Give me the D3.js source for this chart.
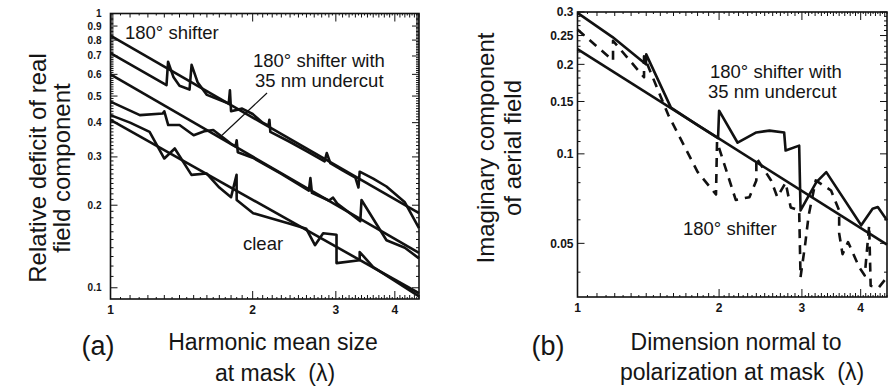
<!DOCTYPE html>
<html>
<head>
<meta charset="utf-8">
<script src="https://cdn.jsdelivr.net/npm/d3@7/dist/d3.min.js"></script>
<style>
  body { margin: 0; background: #fff; }
  text { font-family: "Liberation Sans", Arial, Helvetica, sans-serif; fill: #151515; white-space: pre; }
  .tick-label { font-weight: bold; }
</style>
</head>
<body>
<svg id="chart" width="895" height="390"></svg>
<script>
// ---- data ----
const xTickValues = [1, 2, 3, 4];
const yTicksA = [0.1, 0.2, 0.3, 0.4, 0.5, 0.6, 0.7, 0.8, 0.9, 1];
const yTickLabelsA = ['0.1', '0.2', '0.3', '0.4', '0.5', '0.6', '0.7', '0.8', '0.9', '1'];
const yTicksB = [0.05, 0.1, 0.15, 0.2, 0.25, 0.3];
const yTickLabelsB = ['0.05', '0.1', '0.15', '0.2', '0.25', '0.3'];

// panel (a): relative deficit of real field component
const shifterFitA = [[1, 0.83], [4.5, 0.187]];
const shifterExactA = [
  [1, 0.717], [1.314, 0.548], [1.324, 0.667], [1.36, 0.585], [1.40, 0.545], [1.47, 0.528],
  [1.485, 0.65], [1.53, 0.56], [1.6, 0.505], [1.70, 0.485], [1.78, 0.47], [1.79, 0.525],
  [1.80, 0.44], [1.90, 0.45], [2.0, 0.43], [2.10, 0.40], [2.16, 0.39], [2.17, 0.41],
  [2.18, 0.37], [2.40, 0.34], [2.60, 0.315], [2.84, 0.289], [2.87, 0.31], [2.92, 0.285],
  [3.10, 0.268], [3.30, 0.252], [3.35, 0.232], [3.37, 0.265], [3.60, 0.25], [3.84, 0.234],
  [4.20, 0.205], [4.5, 0.165]
];
const undercutFitA = [[1, 0.60], [4.5, 0.134]];
const undercutExactA = [
  [1, 0.477], [1.154, 0.426], [1.29, 0.432], [1.30, 0.44], [1.325, 0.392], [1.40, 0.392],
  [1.50, 0.36], [1.58, 0.372], [1.65, 0.376], [1.72, 0.356], [1.80, 0.335], [1.84, 0.328],
  [1.85, 0.345], [1.86, 0.312], [2.0, 0.298], [2.30, 0.26], [2.63, 0.226], [2.65, 0.251],
  [2.67, 0.222], [2.90, 0.208], [2.96, 0.213], [3.02, 0.203], [3.38, 0.175], [3.40, 0.209],
  [3.84, 0.149], [4.20, 0.140], [4.5, 0.128]
];
const clearFitA = [[1, 0.409], [4.5, 0.0955]];
const clearExactA = [
  [1, 0.426], [1.10, 0.40], [1.21, 0.37], [1.30, 0.296], [1.368, 0.322], [1.484, 0.258],
  [1.597, 0.261], [1.70, 0.232], [1.80, 0.214], [1.849, 0.258], [1.85, 0.209], [2.005, 0.187],
  [2.194, 0.179], [2.397, 0.171], [2.598, 0.164], [2.71, 0.143], [2.82, 0.158], [3.01, 0.156],
  [3.01, 0.123], [3.37, 0.126], [3.37, 0.135], [3.60, 0.119], [4.0, 0.106], [4.5, 0.093]
];

// panel (b): imaginary component of aerial field
const fitB = [[1, 0.225], [4.55, 0.0495]];
const undercutB = [
  [1, 0.298], [1.187, 0.247], [1.398, 0.20], [1.40, 0.216], [1.58, 0.143], [1.80, 0.125],
  [1.99, 0.113], [2.0, 0.1397], [2.19, 0.109], [2.40, 0.118], [2.56, 0.1197], [2.75, 0.118],
  [2.77, 0.1026], [2.96, 0.1066], [2.98, 0.0645], [3.22, 0.0803], [3.38, 0.0868], [4.01, 0.0575],
  [4.24, 0.0654], [4.35, 0.0662], [4.55, 0.0598]
];
const shifterB = [
  [1, 0.262], [1.19, 0.206], [1.19, 0.240], [1.385, 0.181], [1.385, 0.213], [1.56, 0.135],
  [1.80, 0.087], [1.97, 0.073], [1.98, 0.110], [2.17, 0.070], [2.32, 0.0715], [2.40, 0.0814],
  [2.40, 0.097], [2.58, 0.0814], [2.66, 0.0715], [2.77, 0.080], [2.84, 0.066], [2.96, 0.0645],
  [2.98, 0.0385], [3.05, 0.050], [3.10, 0.062], [3.21, 0.0814], [3.46, 0.0753], [3.60, 0.0645],
  [3.60, 0.054], [3.66, 0.046], [3.76, 0.0505], [3.97, 0.0416], [4.08, 0.039], [4.17, 0.0575],
  [4.20, 0.036], [4.37, 0.0355], [4.52, 0.038]
];

const svg = d3.select('#chart');

// minor tick positions on a log axis
function minorTicks(lo, hi, step) {
  return d3.range(Math.round(lo / step), Math.round(hi / step) + 1).map(i => +(i * step).toFixed(4));
}

function drawPanel(p) {
  const x = d3.scaleLog().domain(p.xDomain).range(p.xRange);
  const y = d3.scaleLog().domain(p.yDomain).range(p.yRange);
  const g = svg.append('g');
  const [x0, x1] = p.xRange;
  const [y0, y1] = p.yRange;

  // ticks inside the frame, on all four sides
  const ticks = g.append('g').attr('stroke', '#111').attr('stroke-width', 1);
  const xs = minorTicks(1, p.xDomain[1], 0.05).filter(v => v <= p.xDomain[1]);
  xs.forEach(v => {
    const major = Math.abs(v - Math.round(v)) < 1e-6;
    const mid = Math.abs(v * 10 - Math.round(v * 10)) < 1e-6;
    const len = major ? 8 : mid ? 4 : 2;
    ticks.append('line').attr('x1', x(v)).attr('x2', x(v)).attr('y1', y0).attr('y2', y0 - len);
    ticks.append('line').attr('x1', x(v)).attr('x2', x(v)).attr('y1', y1).attr('y2', y1 + len);
  });
  const ys = minorTicks(p.yDomain[0], p.yDomain[1], p.yMinorStep).filter(v => v >= p.yDomain[0] && v <= p.yDomain[1]);
  ys.forEach(v => {
    const major = p.yTicks.some(t => Math.abs(t - v) < 1e-6);
    const len = major ? 7 : 3;
    ticks.append('line').attr('x1', x0).attr('x2', x0 + len).attr('y1', y(v)).attr('y2', y(v));
    ticks.append('line').attr('x1', x1).attr('x2', x1 - len).attr('y1', y(v)).attr('y2', y(v));
  });

  // frame
  g.append('rect')
    .attr('x', x0).attr('y', y1)
    .attr('width', x1 - x0).attr('height', y0 - y1)
    .attr('fill', 'none').attr('stroke', '#111').attr('stroke-width', 1.6);

  // tick labels
  g.selectAll('.ylab').data(p.yTicks).enter().append('text')
    .attr('class', 'tick-label')
    .attr('x', x0 - p.yLabelGap).attr('y', d => y(d))
    .attr('dy', '0.35em').attr('text-anchor', 'end')
    .style('font-size', p.yTickFont + 'px')
    .text((d, i) => p.yTickLabels[i]);
  g.selectAll('.xlab').data(xTickValues).enter().append('text')
    .attr('class', 'tick-label')
    .attr('x', d => x(d)).attr('y', p.xLabelY)
    .attr('dy', '0.35em').attr('text-anchor', 'middle')
    .style('font-size', '12px')
    .text(d => d);

  // curves
  const line = d3.line().x(d => x(d[0])).y(d => y(d[1]));
  p.series.forEach(s => {
    g.append('path')
      .datum(s.data)
      .attr('d', line)
      .attr('fill', 'none')
      .attr('stroke', '#111')
      .attr('stroke-width', s.width || 2.6)
      .attr('stroke-linejoin', 'round')
      .attr('stroke-dasharray', s.dash || null);
  });

  // annotations
  (p.pointers || []).forEach(pt => {
    g.append('line')
      .attr('x1', x(pt[0][0])).attr('y1', y(pt[0][1]))
      .attr('x2', x(pt[1][0])).attr('y2', y(pt[1][1]))
      .attr('stroke', '#111').attr('stroke-width', 1.2);
  });
  p.notes.forEach(n => {
    g.append('text').attr('x', n.x).attr('y', n.y)
      .style('font-size', (n.size || 18.5) + 'px')
      .attr('text-anchor', n.anchor || 'start')
      .text(n.text);
  });

  // rotated y title
  p.yTitle.forEach((t, i) => {
    g.append('text')
      .attr('transform', `translate(${p.yTitleX[i]},${p.yTitleY}) rotate(-90)`)
      .attr('text-anchor', 'middle')
      .style('font-size', '24px')
      .text(t);
  });
}

drawPanel({
  xDomain: [1, 4.5], xRange: [110.5, 419],
  yDomain: [0.091, 1], yRange: [299, 13.5],
  yTicks: yTicksA, yTickLabels: yTickLabelsA, yMinorStep: 0.01,
  yLabelGap: 9, yTickFont: 10, xLabelY: 310,
  series: [
    { data: shifterFitA }, { data: shifterExactA },
    { data: undercutFitA }, { data: undercutExactA },
    { data: clearFitA }, { data: clearExactA }
  ],
  pointers: [[[2.145, 0.513], [1.722, 0.36]]],
  notes: [
    { x: 125, y: 39, text: '180° shifter' },
    { x: 253, y: 67, text: '180° shifter with' },
    { x: 255, y: 87, text: '35 nm undercut' },
    { x: 243, y: 250, text: 'clear' },
    { x: 98, y: 355, text: '(a)', size: 27, anchor: 'middle' },
    { x: 273, y: 350, text: 'Harmonic mean size', size: 23, anchor: 'middle' },
    { x: 275, y: 381, text: 'at mask  (λ)', size: 23, anchor: 'middle' }
  ],
  yTitle: ['Relative deficit of real', 'field component'],
  yTitleX: [46, 70], yTitleY: 168
});

drawPanel({
  xDomain: [1, 4.55], xRange: [577.5, 887],
  yDomain: [0.033, 0.3], yRange: [297, 12],
  yTicks: yTicksB, yTickLabels: yTickLabelsB, yMinorStep: 0.01,
  yLabelGap: 4, yTickFont: 12, xLabelY: 308,
  series: [
    { data: fitB }, { data: undercutB },
    { data: shifterB, dash: '9,7' }
  ],
  notes: [
    { x: 710, y: 78, text: '180° shifter with' },
    { x: 708, y: 98, text: '35 nm undercut' },
    { x: 683, y: 235, text: '180° shifter' },
    { x: 548, y: 355, text: '(b)', size: 27, anchor: 'middle' },
    { x: 736, y: 350, text: 'Dimension normal to', size: 23, anchor: 'middle' },
    { x: 742, y: 380, text: 'polarization at mask  (λ)', size: 23, anchor: 'middle' }
  ],
  yTitle: ['Imaginary component', 'of aerial field'],
  yTitleX: [494, 521], yTitleY: 148
});
</script>
</body>
</html>
